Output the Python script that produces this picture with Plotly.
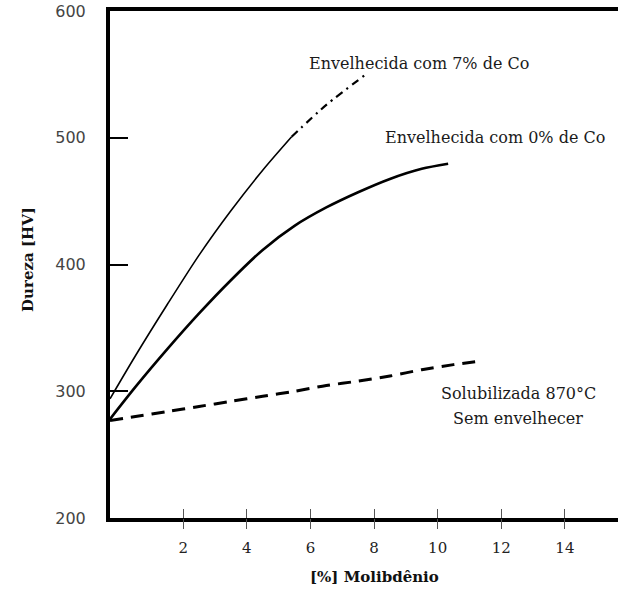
import plotly.graph_objects as go

# % Molibdênio vs Dureza [HV]
mo_7co = [-0.3, 0.5, 1.5, 2.5, 3.5, 4.5, 5.41]
hv_7co = [294, 328, 368.4, 407.4, 442.4, 474.4, 500.8]
mo_7co_ext = [5.41, 6.5, 7.71]
hv_7co_ext = [500.8, 525.9, 549.4]
mo_0co = [-0.3, 0.5, 1.5, 2.5, 3.5, 4.5, 5.5, 6.5, 7.5, 8.5, 9.5, 10.33]
hv_0co = [278, 303.4, 333.2, 361.4, 387.6, 411.5, 430.5, 445, 457, 467.5, 475.5, 479.5]
mo_sol = [-0.3, 0.5, 1.5, 2.5, 3.5, 4.5, 5.5, 6.5, 7.5, 8.5, 9.5, 10.5, 11.27]
hv_sol = [277, 280, 284, 288, 292, 296, 300, 304.5, 308, 312, 317, 321, 323.5]

x_ticks = [2, 4, 6, 8, 10, 12, 14]
y_ticks = [200, 300, 400, 500, 600]

SERIF = "DejaVu Serif"

fig = go.Figure()
fig.add_trace(go.Scatter(x=mo_7co, y=hv_7co, mode="lines",
                         line=dict(color="black", width=1.6, shape="spline", smoothing=0.8),
                         hoverinfo="skip", showlegend=False))
fig.add_trace(go.Scatter(x=mo_7co_ext, y=hv_7co_ext, mode="lines",
                         line=dict(color="black", width=2.2, dash="8px,5px,2px,5px",
                                   shape="spline", smoothing=0.8),
                         hoverinfo="skip", showlegend=False))
fig.add_trace(go.Scatter(x=mo_0co, y=hv_0co, mode="lines",
                         line=dict(color="black", width=2.6, shape="spline", smoothing=0.8),
                         hoverinfo="skip", showlegend=False))
fig.add_trace(go.Scatter(x=mo_sol, y=hv_sol, mode="lines",
                         line=dict(color="black", width=3, dash="13px,8px", shape="spline", smoothing=0.8),
                         hoverinfo="skip", showlegend=False))
# empty trace to register the overlay axis (outer halves of x ticks)
fig.add_trace(go.Scatter(x=[None], y=[None], xaxis="x2", mode="lines",
                         hoverinfo="skip", showlegend=False))

fig.update_layout(
    width=618, height=592,
    margin=dict(l=110, r=0, t=11, b=74),
    paper_bgcolor="white", plot_bgcolor="white",
    xaxis=dict(range=[-0.3, 15.67], tickvals=x_ticks, ticks="inside", ticklen=9,
               tickwidth=1, tickcolor="#555", showgrid=False, zeroline=False,
               showline=True, linewidth=4, linecolor="black", mirror=True,
               tickfont=dict(family=SERIF, size=15, color="#222"),
               ticklabelstandoff=13),
    xaxis2=dict(range=[-0.3, 15.67], overlaying="x", anchor="y", side="bottom",
                tickvals=x_ticks, ticks="outside", ticklen=10, tickwidth=1,
                tickcolor="#555", showticklabels=False, showgrid=False,
                zeroline=False, showline=False),
    yaxis=dict(range=[200, 600], tickvals=y_ticks, ticks="inside", ticklen=18,
               tickwidth=1.5, tickcolor="black", showgrid=False, zeroline=False,
               showline=True, linewidth=4, linecolor="black",
               tickfont=dict(family="DejaVu Sans", size=16, color="#444"),
               ticklabelstandoff=17),
    annotations=[
        dict(text="Envelhecida com 7% de Co", x=9.41, y=558.8, xref="x", yref="y",
             showarrow=False, font=dict(family=SERIF, size=16, color="#1a1a1a")),
        dict(text="Envelhecida com 0% de Co", x=11.8, y=500.5, xref="x", yref="y",
             showarrow=False, font=dict(family=SERIF, size=16, color="#1a1a1a")),
        dict(text="Solubilizada 870°C", x=12.53, y=298.5, xref="x", yref="y",
             showarrow=False, font=dict(family=SERIF, size=16, color="#1a1a1a")),
        dict(text="Sem envelhecer", x=12.53, y=278.5, xref="x", yref="y",
             showarrow=False, font=dict(family=SERIF, size=16, color="#1a1a1a")),
        dict(text="<b>[%] Molibdênio</b>", x=8, y=0, xref="x", yref="paper",
             yshift=-59, yanchor="middle", showarrow=False,
             font=dict(family=SERIF, size=15, color="#111")),
        dict(text="<b>Dureza [HV]</b>", x=0, y=0.509, xref="paper", yref="paper",
             xshift=-93, textangle=-90, showarrow=False,
             font=dict(family=SERIF, size=15, color="#111")),
    ],
)

fig.write_html("out.html")
